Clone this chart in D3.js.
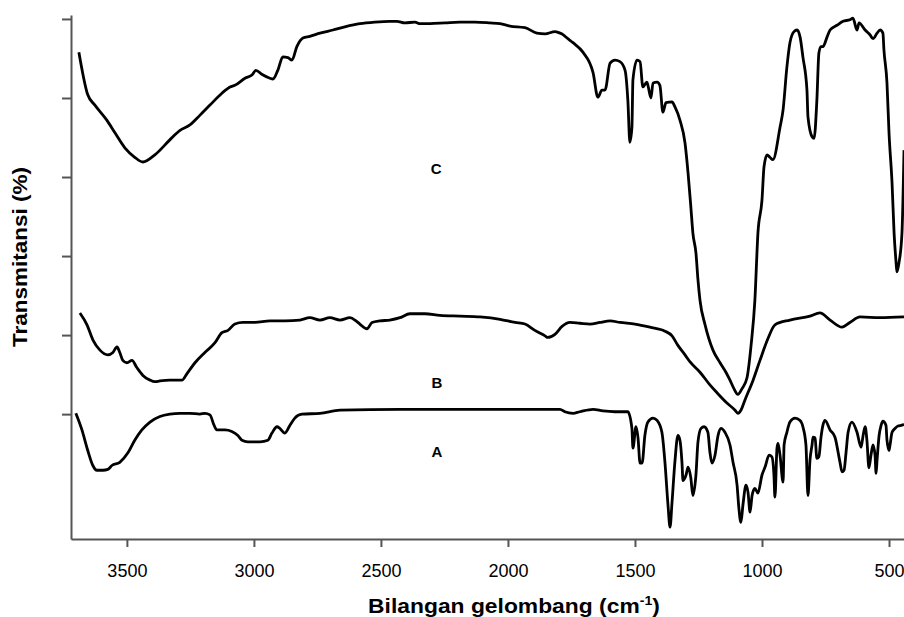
<!DOCTYPE html>
<html>
<head>
<meta charset="utf-8">
<script src="https://cdn.jsdelivr.net/npm/d3@7"></script>
<style>
  body { margin: 0; background: #fff; }
  svg { display: block; font-family: "Liberation Sans", Arial, sans-serif; }
</style>
</head>
<body>
<div id="chart"></div>
<script>
  // FTIR spectra of three samples, stacked with offsets
  const width = 904, height = 617,
    margin = {top: 15, right: 0, bottom: 78, left: 71};

  const xTicks = [3500, 3000, 2500, 2000, 1500, 1000, 500];
  const yTicks = [0, 10, 20, 30, 40, 50];

  // [wavenumber cm-1, transmittance (offset units)]
  const specC = [[3689,45.8],[3654,40.4],[3626,39.1],[3579,37.2],[3547,35.6],[3508,33.7],[3469,32.5],[3437,31.9],[3390,32.8],[3331,34.7],[3291,35.9],[3252,36.6],[3213,37.8],[3173,39.1],[3126,40.6],[3094,41.4],[3075,41.6],[3035,42.5],[3008,42.9],[2992,43.5],[2969,43.0],[2937,42.5],[2925,42.4],[2906,43.5],[2886,45.2],[2866,45.1],[2850,44.8],[2831,46.5],[2807,47.6],[2780,47.8],[2740,48.2],[2689,48.6],[2642,49.0],[2583,49.4],[2524,49.6],[2465,49.7],[2437,49.7],[2406,49.5],[2366,49.6],[2346,49.4],[2307,49.4],[2248,49.5],[2189,49.6],[2130,49.6],[2071,49.5],[2031,49.4],[1992,49.1],[1933,48.9],[1886,48.2],[1854,48.1],[1815,48.4],[1795,48.2],[1787,48.1],[1764,47.5],[1744,47.0],[1705,45.8],[1665,43.2],[1646,40.1],[1630,41.0],[1618,41.0],[1598,44.4],[1579,44.8],[1559,44.6],[1539,43.5],[1528,39.7],[1520,34.4],[1512,36.3],[1508,42.3],[1492,44.8],[1480,44.6],[1469,41.4],[1453,42.0],[1449,41.6],[1437,40.0],[1429,41.9],[1413,42.0],[1402,41.6],[1390,38.2],[1378,39.4],[1354,39.5],[1343,38.9],[1323,37.2],[1303,34.3],[1291,30.5],[1280,26.2],[1272,22.9],[1260,20.4],[1252,17.0],[1244,14.4],[1224,11.3],[1193,8.1],[1165,6.5],[1142,5.3],[1126,4.3],[1110,3.2],[1095,2.5],[1079,3.2],[1059,4.6],[1043,8.7],[1028,14.4],[1016,22.9],[1000,27.1],[992,31.3],[980,32.8],[969,32.5],[957,32.2],[929,36.3],[917,38.5],[902,43.9],[890,47.0],[874,48.4],[862,48.6],[850,47.7],[839,45.2],[823,41.0],[819,37.6],[803,35.1],[795,34.9],[784,39.7],[776,45.7],[768,46.5],[760,46.5],[744,47.7],[732,48.6],[705,49.2],[681,49.7],[654,49.9],[642,50.1],[626,48.6],[618,49.5],[594,48.6],[575,48.0],[563,47.5],[547,48.2],[535,48.6],[524,48.2],[520,46.1],[508,41.9],[500,35.6],[488,29.2],[480,22.9],[472,19.1],[469,18.0],[461,19.1],[449,22.9],[441,33.4]];

  const specB = [[3685,12.8],[3657,11.3],[3634,9.4],[3606,8.1],[3575,7.5],[3555,7.8],[3539,8.5],[3528,7.8],[3516,6.8],[3500,6.5],[3480,6.8],[3461,5.9],[3437,4.9],[3409,4.3],[3390,4.1],[3370,4.2],[3331,4.3],[3283,4.3],[3264,5.1],[3232,6.5],[3193,7.8],[3154,9.0],[3126,10.3],[3102,10.6],[3075,11.4],[3043,11.6],[2996,11.6],[2937,11.8],[2878,11.8],[2819,11.9],[2780,12.2],[2740,11.9],[2701,12.2],[2661,11.9],[2622,12.2],[2598,11.8],[2583,11.4],[2555,10.8],[2535,11.6],[2504,11.8],[2465,11.9],[2425,12.2],[2386,12.7],[2327,12.7],[2268,12.5],[2189,12.4],[2110,12.3],[2031,12.0],[1972,11.6],[1933,11.4],[1894,10.6],[1854,9.9],[1843,9.7],[1815,10.1],[1787,11.1],[1756,11.6],[1717,11.5],[1677,11.4],[1638,11.6],[1598,11.8],[1559,11.6],[1500,11.4],[1441,11.0],[1382,10.5],[1354,9.9],[1331,8.7],[1303,7.5],[1283,6.6],[1244,5.3],[1205,3.7],[1177,2.7],[1138,1.4],[1106,0.5],[1095,0.1],[1083,0.5],[1067,1.8],[1035,4.3],[1008,6.8],[976,9.6],[949,11.3],[890,11.9],[811,12.4],[772,12.8],[732,11.9],[685,11.0],[654,11.6],[614,12.3],[535,12.2],[441,12.3]];

  const specA = [[3701,0.1],[3677,-2.0],[3654,-4.6],[3634,-6.5],[3618,-7.1],[3594,-7.1],[3575,-7.0],[3559,-6.5],[3528,-6.1],[3496,-4.9],[3469,-3.3],[3441,-2.0],[3409,-1.0],[3370,-0.3],[3331,0],[3291,0.1],[3252,0.1],[3213,0],[3193,0.1],[3173,-0.1],[3157,-1.4],[3146,-2.0],[3114,-2.0],[3087,-2.2],[3063,-2.7],[3047,-3.3],[3024,-3.5],[2976,-3.5],[2945,-3.3],[2929,-2.4],[2909,-1.6],[2898,-1.8],[2878,-2.4],[2858,-1.4],[2839,-0.5],[2811,0],[2740,0.1],[2661,0.5],[2425,0.6],[2228,0.6],[2031,0.6],[1795,0.6],[1776,0.3],[1744,0.1],[1717,0.3],[1665,0.6],[1626,0.4],[1579,0.3],[1528,0.3],[1512,-1.8],[1508,-4.3],[1496,-1.6],[1488,-3.0],[1480,-6.2],[1472,-6.2],[1461,-2.7],[1449,-1.0],[1429,-0.5],[1413,-0.8],[1394,-2.3],[1382,-6.1],[1370,-11.5],[1362,-14.3],[1354,-11.1],[1343,-6.1],[1331,-2.7],[1323,-3.3],[1315,-6.1],[1311,-8.4],[1299,-7.7],[1291,-6.7],[1280,-8.1],[1272,-10.3],[1260,-7.7],[1252,-3.5],[1240,-1.8],[1228,-1.6],[1213,-2.3],[1205,-4.8],[1197,-6.2],[1185,-5.2],[1173,-2.7],[1161,-1.8],[1146,-2.3],[1126,-3.9],[1114,-6.1],[1098,-9.0],[1091,-11.9],[1083,-13.7],[1075,-11.5],[1063,-9.0],[1055,-9.9],[1047,-12.4],[1039,-10.3],[1028,-9.4],[1016,-10.0],[1000,-7.7],[988,-6.7],[972,-5.2],[961,-5.4],[953,-7.7],[949,-10.5],[941,-4.3],[937,-3.7],[929,-5.2],[917,-8.6],[913,-3.9],[902,-2.3],[890,-1.0],[870,-0.5],[850,-0.8],[839,-1.6],[827,-3.9],[819,-10.3],[811,-5.8],[803,-3.9],[799,-2.9],[791,-3.0],[784,-5.6],[776,-5.4],[768,-3.0],[760,-1.4],[752,-0.8],[732,-2.0],[713,-2.9],[693,-6.1],[685,-7.3],[677,-7.1],[669,-4.8],[661,-2.3],[646,-1.0],[626,-2.3],[610,-4.2],[602,-2.7],[594,-1.6],[587,-3.3],[579,-6.8],[571,-5.2],[563,-3.9],[555,-5.2],[551,-7.5],[547,-5.8],[539,-2.7],[531,-1.4],[524,-0.9],[512,-1.4],[508,-3.3],[500,-4.6],[496,-3.9],[488,-2.3],[476,-1.8],[465,-1.5],[449,-1.4],[441,-1.3]];

  const spectra = [specA, specB, specC];

  // curve names, placed in data units
  const curveLabels = [
    {name: "C", w: 2283, t: 31.0},
    {name: "B", w: 2280, t: 4.0},
    {name: "A", w: 2280, t: -4.8}
  ];

  const svg = d3.select("#chart").append("svg")
      .attr("width", width)
      .attr("height", height);

  const x = d3.scaleLinear()
      .domain([3720, 441])
      .range([margin.left, width - margin.right]);

  const y = d3.scaleLinear()
      .domain([-15.8, 50.5])
      .range([height - margin.bottom, margin.top]);

  //axes
  const xAxis = svg.append("g")
      .attr("transform", "translate(0," + y.range()[0] + ")")
      .call(d3.axisBottom(x).tickValues(xTicks).tickFormat(d3.format("d"))
        .tickSize(8).tickSizeOuter(0).tickPadding(17));

  xAxis.selectAll("text")
      .style("font-size", "18px")
      .attr("fill", "#000");

  const yAxis = svg.append("g")
      .attr("transform", "translate(" + margin.left + ",0)")
      .call(d3.axisLeft(y).tickValues(yTicks).tickSize(9).tickSizeOuter(0).tickFormat(""));

  svg.selectAll(".domain, .tick line")
      .attr("stroke", "#555")
      .attr("stroke-width", 2);

  //spectra
  const line = d3.line()
      .x((d) => x(d[0]))
      .y((d) => y(d[1]))
      .curve(d3.curveMonotoneX);

  svg.selectAll(".spectrum")
      .data(spectra)
      .enter().append("path")
        .attr("class", "spectrum")
        .attr("d", line)
        .attr("fill", "none")
        .attr("stroke", "#000")
        .attr("stroke-width", 2.8)
        .attr("stroke-linejoin", "round");

  svg.selectAll(".curveLabel")
      .data(curveLabels)
      .enter().append("text")
        .attr("class", "curveLabel")
        .attr("x", (d) => x(d.w))
        .attr("y", (d) => y(d.t))
        .attr("dy", "0.35em")
        .style("text-anchor", "middle")
        .style("font-size", "15px")
        .style("font-weight", "bold")
        .text((d) => d.name);

  //axis titles
  const yTitle = svg.append("text")
      .attr("transform", "translate(27,257) rotate(-90)")
      .style("text-anchor", "middle")
      .style("font-size", "21px")
      .style("font-weight", "bold")
      .text("Transmitansi (%)");
  yTitle.attr("textLength", 180).attr("lengthAdjust", "spacingAndGlyphs");

  const xTitle = svg.append("text")
      .attr("x", 514)
      .attr("y", 613)
      .style("text-anchor", "middle")
      .style("font-size", "21px")
      .style("font-weight", "bold");
  xTitle.append("tspan").text("Bilangan gelombang (cm");
  xTitle.append("tspan").attr("dy", -8).style("font-size", "13px").text("-1");
  xTitle.append("tspan").attr("dy", 8).text(")");

  //stretch the x title to the measured width
  const box = xTitle.node().getBBox();
  const sx = 292 / box.width;
  xTitle.attr("transform", "translate(" + 514 * (1 - sx) + ",0) scale(" + sx + ",1)");
</script>
</body>
</html>
